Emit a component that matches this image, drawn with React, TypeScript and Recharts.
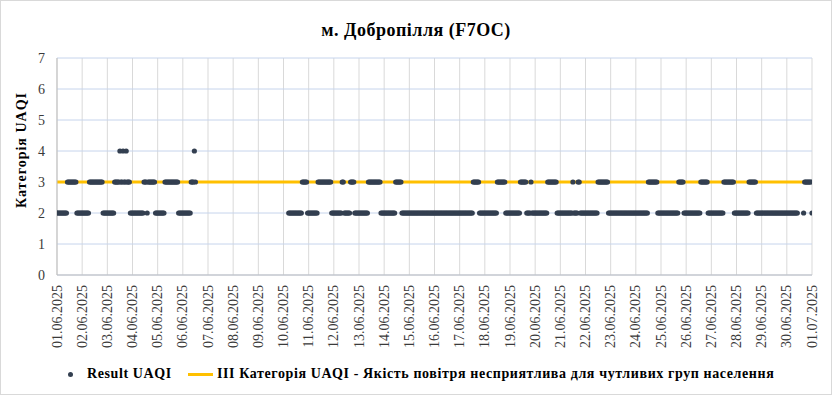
import React from "react";
import { ComposedChart, Scatter, Line, XAxis, YAxis, CartesianGrid } from "recharts";

// Hourly UAQI category, one string per day (24 hours each); "-" = no data
const dayValues: string[] = [
  "222222222233333333322222", // 01.06
  "222222233333333333332222", // 02.06
  "222222233333433433433322", // 03.06
  "222222222223332333333322", // 04.06
  "222222233333333333332222", // 05.06
  "2222222233343-----------", // 06.06
  "------------------------", // 07.06
  "------------------------", // 08.06
  "------------------------", // 09.06
  "-----2222222222222333332", // 10.06
  "222222222333333333333322", // 11.06
  "222222223322222233332222", // 12.06
  "222222222333333333333222", // 13.06
  "222222222223333332222222", // 14.06
  "222222222222222222222222", // 15.06
  "222222222222222222222222", // 16.06
  "222222222222233333322222", // 17.06
  "222222222222333333332222", // 18.06
  "222222222233333322223222", // 19.06
  "222222222222333333333222", // 20.06
  "222222222222322223322222", // 21.06
  "222222222222333333333322", // 22.06
  "222222222222222222222222", // 23.06
  "222222222222333333333222", // 24.06
  "222222222222222223333322", // 25.06
  "222222222222223333333222", // 26.06
  "222222222222333333333322", // 27.06
  "222222222222333333322222", // 28.06
  "222222222222222222222222", // 29.06
  "22222222222-----23333333", // 30.06
  "2",                        // 01.07 00:00
];

const dateLabels: string[] = [
  "01.06.2025", "02.06.2025", "03.06.2025", "04.06.2025", "05.06.2025", "06.06.2025",
  "07.06.2025", "08.06.2025", "09.06.2025", "10.06.2025", "11.06.2025", "12.06.2025",
  "13.06.2025", "14.06.2025", "15.06.2025", "16.06.2025", "17.06.2025", "18.06.2025",
  "19.06.2025", "20.06.2025", "21.06.2025", "22.06.2025", "23.06.2025", "24.06.2025",
  "25.06.2025", "26.06.2025", "27.06.2025", "28.06.2025", "29.06.2025", "30.06.2025",
  "01.07.2025",
];

const yTicks: number[] = [0, 1, 2, 3, 4, 5, 6, 7];
const limitValue = 3;
const seriesName = "Result UAQI";
const limitName = "III Категорія UAQI - Якість повітря несприятлива для чутливих груп населення";
const titleText = "м. Добропілля (F7OC)";
const yLabelText = "Категорія UAQI";

const HOURS_PER_DAY = 24;

const points: { h: number; v: number }[] = [];
dayValues.forEach((s, d) => {
  for (let i = 0; i < s.length; i++) {
    const c = s[i];
    if (c !== "-") points.push({ h: d * HOURS_PER_DAY + i, v: Number(c) });
  }
});

const lastHour = (dateLabels.length - 1) * HOURS_PER_DAY;
const limitRows = [
  { h: 0, lim: limitValue },
  { h: lastHour, lim: limitValue },
];
const xTicks = dateLabels.map((_, i) => i * HOURS_PER_DAY);

const FONT = "'Liberation Serif', 'Times New Roman', serif";
const DOT = "#333f50";
const ORANGE = "#ffc000";

const XTick = (props: any) => {
  const { x, y, payload } = props;
  const idx = Math.round(payload.value / HOURS_PER_DAY);
  return (
    <text
      x={x}
      y={y}
      transform={`rotate(-90, ${x}, ${y})`}
      textAnchor="end"
      dominantBaseline="central"
      fontSize={14}
      fontFamily={FONT}
      fill="#3a3a3a"
    >
      {dateLabels[idx]}
    </text>
  );
};

const YTick = (props: any) => {
  const { x, y, payload } = props;
  return (
    <text x={x} y={y} textAnchor="end" dominantBaseline="central" fontSize={14} fontFamily={FONT} fill="#3a3a3a">
      {payload.value}
    </text>
  );
};

const DotShape = (props: any) => <circle cx={props.cx} cy={props.cy} r={2.6} fill={DOT} />;

const legendText: React.CSSProperties = {
  position: "absolute", top: 366, fontSize: 14, fontWeight: "bold", lineHeight: "16px",
  color: "#000", whiteSpace: "nowrap", letterSpacing: "0.6px", fontFamily: FONT,
};

export default function App() {
  return (
    <div style={{ position: "absolute", left: 0, top: 0, width: 832, height: 395, background: "#fff", fontFamily: FONT }}>
      <ComposedChart width={832} height={395} margin={{ top: 58, right: 20, bottom: 0, left: 0 }}>
        <CartesianGrid horizontal={false} stroke="#d9d9d9" />
        <CartesianGrid vertical={false} stroke="#c6d4ec" />
        <XAxis
          type="number"
          dataKey="h"
          domain={[0, lastHour]}
          ticks={xTicks}
          interval={0}
          tick={<XTick />}
          tickLine={false}
          tickSize={6}
          tickMargin={4}
          height={120}
          stroke="#bfbfbf"
          allowDataOverflow
        />
        <YAxis
          type="number"
          domain={[0, 7]}
          ticks={yTicks}
          interval={0}
          tick={<YTick />}
          tickLine={false}
          tickSize={6}
          tickMargin={6}
          width={57}
          stroke="#bfbfbf"
          allowDataOverflow
        />
        <Line
          data={limitRows}
          dataKey="lim"
          stroke={ORANGE}
          strokeWidth={3}
          dot={false}
          activeDot={false}
          isAnimationActive={false}
          name={limitName}
        />
        <Scatter data={points} dataKey="v" fill={DOT} shape={<DotShape />} isAnimationActive={false} name={seriesName} />
      </ComposedChart>

      <div
        style={{
          position: "absolute", left: 0, top: 20, width: 832, textAlign: "center", fontFamily: FONT,
          fontSize: 18, fontWeight: "bold", lineHeight: "20px", color: "#000", letterSpacing: "0.5px",
        }}
      >
        {titleText}
      </div>

      <div style={{ position: "absolute", left: 22, top: 150, width: 0, height: 0 }}>
        <div
          style={{
            position: "absolute", left: 0, top: 0, transform: "translate(-50%, -50%) rotate(-90deg)",
            whiteSpace: "nowrap", fontSize: 14, fontWeight: "bold", lineHeight: "16px", color: "#000",
            letterSpacing: "1px", fontFamily: FONT,
          }}
        >
          {yLabelText}
        </div>
      </div>

      <div style={{ position: "absolute", left: 67.5, top: 371.5, width: 5, height: 5, borderRadius: "50%", background: DOT }} />
      <div style={{ ...legendText, left: 87 }}>{seriesName}</div>
      <div style={{ position: "absolute", left: 188, top: 372.5, width: 25, height: 3, background: ORANGE }} />
      <div style={{ ...legendText, left: 217 }}>{limitName}</div>

      <div
        style={{
          position: "absolute", left: 0, top: 0, width: 832, height: 395, boxSizing: "border-box",
          border: "1px solid #d9d9d9", pointerEvents: "none",
        }}
      />
    </div>
  );
}
